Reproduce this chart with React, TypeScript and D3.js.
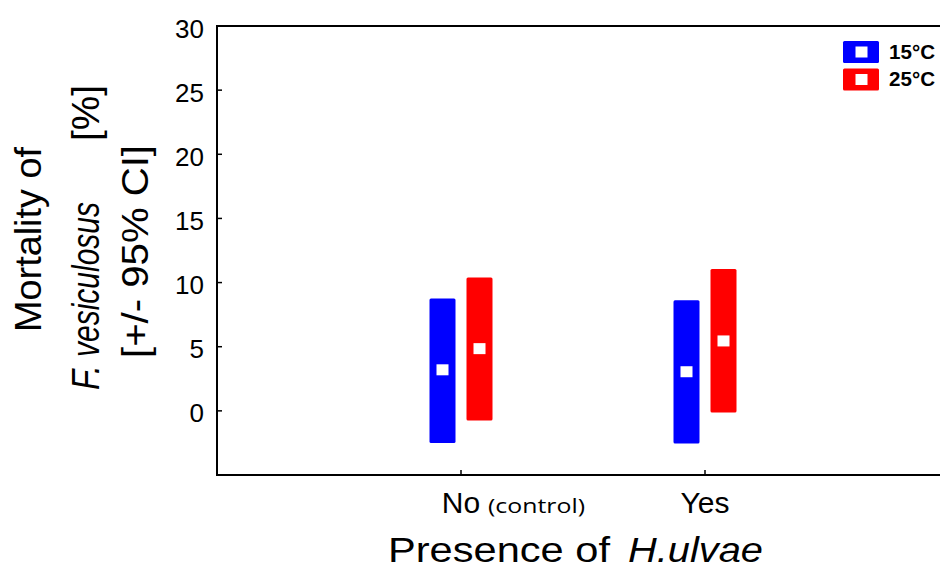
import React, { useEffect, useRef } from 'react';
import * as d3 from 'd3';

const categories = ['No', 'Yes'];
const seriesNames = ['15°C', '25°C'];
const seriesColors = ['#0000ff', '#ff0000'];
const means15 = [3.2, 3.05];
const lower15 = [-2.5, -2.55];
const upper15 = [8.75, 8.62];
const means25 = [4.85, 5.45];
const lower25 = [-0.75, -0.13];
const upper25 = [10.4, 11.05];
const yTicks = [0, 5, 10, 15, 20, 25, 30];

const FONT = "'Liberation Sans', Arial, sans-serif";

export default function App() {
  const ref = useRef<SVGSVGElement>(null);

  useEffect(() => {
    const svg = d3.select(ref.current);
    svg.selectAll('*').remove();

    const left = 217;
    const top = 26;
    const bottom = 475;
    const right = 949;

    const x = d3.scalePoint<string>().domain(categories).range([left, right]).padding(1);
    const y = d3.scaleLinear().domain([-5, 30]).range([bottom, top]);
    const offset = d3.scalePoint<string>().domain(seriesNames).range([-18.5, 18.5]);

    // frame (right side runs past the picture edge)
    svg.append('rect')
      .attr('x', left).attr('y', top)
      .attr('width', right - left).attr('height', bottom - top)
      .attr('fill', 'none').attr('stroke', '#000').attr('stroke-width', 2);

    // y ticks
    const yAxis = svg.append('g');
    yAxis.selectAll('line').data(yTicks).enter().append('line')
      .attr('x1', left).attr('x2', left + 5)
      .attr('y1', (d) => y(d)).attr('y2', (d) => y(d))
      .attr('stroke', '#000').attr('stroke-width', 1.5);
    yAxis.selectAll('text').data(yTicks).enter().append('text')
      .attr('x', 204).attr('y', (d) => y(d) + 11.5)
      .attr('text-anchor', 'end')
      .attr('font-family', FONT).attr('font-size', 26)
      .text((d) => d);

    // x ticks
    svg.selectAll('.xtick').data(categories).enter().append('line')
      .attr('x1', (d) => x(d)!).attr('x2', (d) => x(d)!)
      .attr('y1', bottom).attr('y2', bottom - 5)
      .attr('stroke', '#000').attr('stroke-width', 1.5);

    const xl = svg.append('g').attr('font-family', FONT);
    xl.append('text').attr('x', x('No')!).attr('y', 513)
      .attr('text-anchor', 'middle').attr('font-size', 30).text('No');
    xl.append('text').attr('x', 488).attr('y', 513)
      .attr('font-family', "'Open Sans', sans-serif").attr('font-size', 20)
      .attr('textLength', 97).attr('lengthAdjust', 'spacingAndGlyphs').text('(control)');
    xl.append('text').attr('x', x('Yes')!).attr('y', 513)
      .attr('text-anchor', 'middle').attr('font-size', 30).text('Yes');

    // bars with mean markers
    const series = [
      { name: seriesNames[0], color: seriesColors[0], mean: means15, lo: lower15, hi: upper15 },
      { name: seriesNames[1], color: seriesColors[1], mean: means25, lo: lower25, hi: upper25 },
    ];
    const barW = 26;
    series.forEach((s) => {
      const g = svg.append('g');
      g.selectAll('rect.bar').data(categories).enter().append('rect')
        .attr('x', (d) => x(d)! + offset(s.name)! - barW / 2)
        .attr('y', (d, i) => y(s.hi[i]))
        .attr('width', barW)
        .attr('height', (d, i) => y(s.lo[i]) - y(s.hi[i]))
        .attr('rx', 1.5)
        .attr('fill', s.color);
      g.selectAll('rect.mean').data(categories).enter().append('rect')
        .attr('x', (d) => x(d)! + offset(s.name)! - 6)
        .attr('y', (d, i) => y(s.mean[i]) - 5.5)
        .attr('width', 12).attr('height', 11)
        .attr('fill', '#fff');
    });

    // legend
    const legend = svg.append('g');
    series.forEach((s, i) => {
      const ly = 41 + i * 27.5;
      legend.append('rect').attr('x', 843).attr('y', ly).attr('width', 36).attr('height', 22)
        .attr('rx', 1.5).attr('fill', s.color);
      legend.append('rect').attr('x', 855.5).attr('y', ly + 5.5).attr('width', 12).attr('height', 11)
        .attr('fill', '#fff');
      legend.append('text').attr('x', 889).attr('y', ly + 17.5)
        .attr('font-family', FONT).attr('font-size', 20).attr('font-weight', 'bold')
        .attr('textLength', 46).attr('lengthAdjust', 'spacingAndGlyphs')
        .text(s.name);
    });

    // y title
    const yt = svg.append('g').attr('transform', 'rotate(-90)')
      .attr('font-family', FONT).attr('font-size', 36);
    yt.append('text').attr('x', -332).attr('y', 41)
      .attr('textLength', 185).attr('lengthAdjust', 'spacingAndGlyphs')
      .text('Mortality of');
    const l2 = yt.append('g').attr('font-size', 39);
    l2.append('text').attr('x', -390).attr('y', 99).attr('font-style', 'italic')
      .attr('textLength', 25).attr('lengthAdjust', 'spacingAndGlyphs').text('F.');
    l2.append('text').attr('x', -357).attr('y', 99).attr('font-style', 'italic')
      .attr('textLength', 155).attr('lengthAdjust', 'spacingAndGlyphs').text('vesiculosus');
    l2.append('text').attr('x', -141).attr('y', 99)
      .attr('textLength', 56).attr('lengthAdjust', 'spacingAndGlyphs').text('[%]');
    yt.append('text').attr('x', -358).attr('y', 148)
      .attr('textLength', 213).attr('lengthAdjust', 'spacingAndGlyphs')
      .text('[+/- 95% CI]');

    // x title
    const xt = svg.append('g').attr('font-family', FONT).attr('font-size', 35);
    xt.append('text').attr('x', 388).attr('y', 562)
      .attr('textLength', 222).attr('lengthAdjust', 'spacingAndGlyphs').text('Presence of');
    xt.append('text').attr('x', 628).attr('y', 562).attr('font-style', 'italic')
      .attr('textLength', 135).attr('lengthAdjust', 'spacingAndGlyphs').text('H.ulvae');
  }, []);

  return (
    <svg ref={ref} width={940} height={569}
      style={{ position: 'absolute', left: 0, top: 0, background: '#fff' }} />
  );
}
